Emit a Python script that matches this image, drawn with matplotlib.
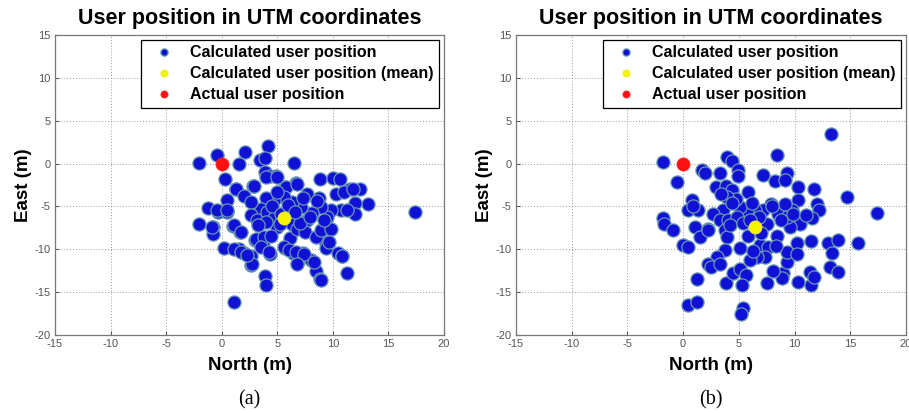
import numpy as np
import matplotlib
matplotlib.use('Agg')
import matplotlib.pyplot as plt

# ---- data (North, East in metres) ----
# panel (a)
north_a = [-2.0, -0.4, 2.06, 1.55, 4.16, 3.4, 3.9, 6.5, 0.3, 3.9, 4.3, 4.85, 6.7, 5.7, 2.8, 1.3,
           8.8, 10.0, 10.6, 11.5, 12.4, 13.2, 12.0, 12.0, 17.4, -1.2, -2.0, -0.75, -0.8, -0.3,
           0.45, 0.45, 1.0, 1.6, 0.2, 1.55, 2.0, 2.6, 2.6, 3.0, 3.7, 4.3, 3.9, 4.0, 1.1,
           5.7, 6.45, 6.75, 7.35, 8.0, 8.5, 8.8, 9.3, 9.4, 10.5, 10.8, 11.3, 9.7, 6.1,
           1.26, 2.0, 2.9, 3.95, 5.0, 5.75, 6.8, 7.7, 8.75, 10.25, 11.0, 11.8, 10.7, 11.3,
           9.8, 9.5, 8.9, 8.15, 7.7, 7.1, 6.35, 5.6, 4.7, 3.95, 3.5, 2.6, 2.6, 3.2, 4.1,
           4.7, 5.0, 6.35, 6.8, 7.5, 8.45, 8.9, 9.8, 9.65, 3.05, 3.8, 4.4, 3.5, 4.25, 5.6,
           6.05, 6.65, 7.4, 8.3, 6.8, 2.75, 1.1, -0.4, 0.5, -0.85, 1.7, 1.1, 1.7, 2.3,
           8.9, 10.85, 4.5, 5.3, 6.0, 7.0, 7.9, 8.6, 9.2, 5.2, 4.0, 6.6, 7.3, 3.3, 5.0]
east_a = [0.1, 1.0, 1.4, -0.1, 2.0, 0.4, 0.7, 0.1, -1.85, -0.95, -1.5, -1.5, -2.3, -2.7, -2.6, -3.0,
          -1.8, -1.7, -1.85, -3.0, -3.0, -4.7, -4.6, -5.9, -5.7, -5.2, -7.0, -7.4, -8.2, -5.6,
          -4.3, -5.6, -7.3, -8.0, -9.8, -10.0, -10.4, -10.8, -11.8, -8.9, -9.1, -10.6, -13.1, -14.2, -16.1,
          -9.9, -10.4, -11.6, -10.4, -11.2, -12.5, -13.5, -9.0, -9.9, -10.4, -10.8, -12.8, -7.6, -8.7,
          -3.0, -3.8, -2.65, -1.55, -1.55, -2.7, -2.4, -3.5, -4.0, -3.5, -3.3, -3.0, -5.45, -5.45,
          -5.45, -6.2, -5.1, -5.8, -6.6, -5.1, -4.5, -3.9, -4.3, -4.0, -5.25, -4.5, -6.0, -6.6, -5.65,
          -6.4, -7.4, -7.0, -7.6, -8.0, -8.55, -7.8, -7.6, -9.1, -8.75, -8.55, -8.4, -9.7, -10.3, -9.7,
          -10.1, -10.3, -10.5, -11.5, -11.7, -11.7, -7.2, -5.45, -5.45, -7.4, -8.0, -10.0, -10.3, -10.7,
          -13.6, -10.8, -5.0, -5.9, -4.8, -6.9, -6.2, -4.4, -6.6, -7.0, -6.8, -5.6, -4.0, -7.2, -3.3]
mean_a = (5.63, -6.3)

# panel (b)
north_b = [-1.85, -0.55, 13.3, 8.45, 1.65, 1.95, 3.3, 3.95, 4.35, 4.95, 4.95, 2.95, 3.85, 4.35,
           5.85, 7.2, 8.2, 9.3, 9.1, 10.3, 11.7, 14.7, 0.75, 0.45, 1.35, -1.85, -1.75, -0.9,
           1.05, 1.5, 2.25, 0.0, 0.45, 1.2, 0.45, 1.2, 5.4, 5.2, 3.8, 4.5, 5.1, 5.6, 5.25,
           7.5, 9.0, 8.9, 10.3, 9.3, 9.3, 10.2, 11.5, 13.0, 13.4, 13.9, 13.2, 13.9, 11.5,
           11.4, 11.7, 15.7, 17.4, 12.0, 12.2, 11.6, 10.3, 9.8, 10.5, 9.6, 8.5, 9.1, 9.3,
           7.9, 7.2, 6.45, 5.7, 5.1, 4.7, 3.9, 3.6, 2.7, 3.3, 4.05, 4.8, 3.75, 3.9, 5.85,
           7.5, 8.4, 6.9, 7.6, 7.35, 6.6, 6.0, 5.1, 3.75, 3.0, 2.25, 2.5, 3.3, 8.1, 10.2,
           0.85, 2.2, 6.2, 6.8, 8.0, 4.2, 5.4, 7.0, 8.8, 9.9, 6.3, 4.4, 8.3, 11.0, 3.4, 6.0]
east_b = [0.2, -2.1, 3.4, 1.05, -0.7, -1.1, -1.1, 0.8, 0.3, -0.8, -1.5, -2.7, -2.65, -3.1,
          -3.3, -1.35, -2.05, -1.15, -1.95, -2.7, -3.0, -3.9, -4.2, -5.4, -5.45, -6.4, -7.0, -7.7,
          -7.4, -8.55, -7.6, -9.55, -9.7, -13.5, -16.5, -16.1, -16.8, -17.5, -13.9, -12.8, -12.3, -13.0, -14.2,
          -13.9, -12.8, -13.4, -13.8, -11.5, -10.3, -9.3, -9.0, -9.3, -10.4, -8.95, -12.1, -12.6, -14.2,
          -12.6, -13.2, -9.3, -5.75, -4.75, -5.45, -6.4, -4.3, -5.45, -7.0, -7.4, -5.85, -4.7, -6.2,
          -4.7, -5.45, -5.45, -5.45, -5.05, -4.1, -3.9, -5.45, -5.85, -6.6, -6.6, -6.2, -7.8, -8.55, -8.4,
          -7.0, -8.4, -9.5, -9.7, -10.9, -10.9, -11.3, -9.9, -10.1, -10.9, -11.7, -12.1, -11.7, -12.5, -10.5,
          -4.9, -7.7, -4.6, -6.2, -5.0, -7.2, -6.9, -8.1, -6.6, -5.9, -10.2, -4.6, -9.6, -6.0, -3.5, -6.6]
mean_b = (6.45, -7.45)

actual = (0.0, 0.0)

xticks = [-15, -10, -5, 0, 5, 10, 15, 20]
yticks = [-20, -15, -10, -5, 0, 5, 10, 15]

labels = ['Calculated user position', 'Calculated user position (mean)', 'Actual user position']
captions = ['(a)', '(b)']

plt.rcParams['font.family'] = ['Liberation Sans', 'DejaVu Sans']
plt.rcParams['axes.unicode_minus'] = False

fig = plt.figure(figsize=(9.09, 4.13), dpi=100)
ax_pos = [[0.0605, 0.189, 0.428, 0.7264], [0.5677, 0.189, 0.429, 0.7264]]
data = [(north_a, east_a, mean_a), (north_b, east_b, mean_b)]

for i, (pos, (xn, ye, mn)) in enumerate(zip(ax_pos, data)):
    ax = fig.add_axes(pos)
    ax.plot(xn, ye, 'o', ls='none', ms=9.5, mfc='#1010d6', mec='#6a9ab0', mew=0.9, label=labels[0])
    ax.plot(mn[0], mn[1], 'o', ms=9.5, mfc='#f5f500', mec='#e8e830', mew=0.5, label=labels[1])
    ax.plot(actual[0], actual[1], 'o', ms=9.5, mfc='#ff1010', mec='#ff3030', mew=0.5, label=labels[2])
    ax.set_xlim(-15, 20)
    ax.set_ylim(-20, 15)
    ax.set_xticks(xticks)
    ax.set_yticks(yticks)
    ax.grid(True, ls=(0, (1, 2)), color='#9a9a9a', lw=0.7)
    ax.tick_params(direction='in', length=3, labelsize=8, colors='#555555', pad=3)
    for s in ax.spines.values():
        s.set_color('#777777')
        s.set_linewidth(0.9)
    ax.set_title('User position in UTM coordinates', fontsize=15.5, fontweight='bold', pad=8)
    ax.set_xlabel('North (m)', fontsize=13.5, fontweight='bold', labelpad=6)
    ax.set_ylabel('East (m)', fontsize=13.5, fontweight='bold', labelpad=2)
    leg = ax.legend(loc='upper right', markerscale=0.55, fancybox=False, edgecolor='black',
                    framealpha=1, borderaxespad=0.3, borderpad=0.35, handlelength=2.2,
                    handletextpad=0.55, labelspacing=0.38,
                    prop={'weight': 'bold', 'size': 11.5})
    leg.get_frame().set_linewidth(0.9)
    ax.text(0.5, -0.185, captions[i], transform=ax.transAxes, ha='center', va='top',
            fontsize=14.5, family='Liberation Serif')

fig.savefig('out.png', dpi=100)
